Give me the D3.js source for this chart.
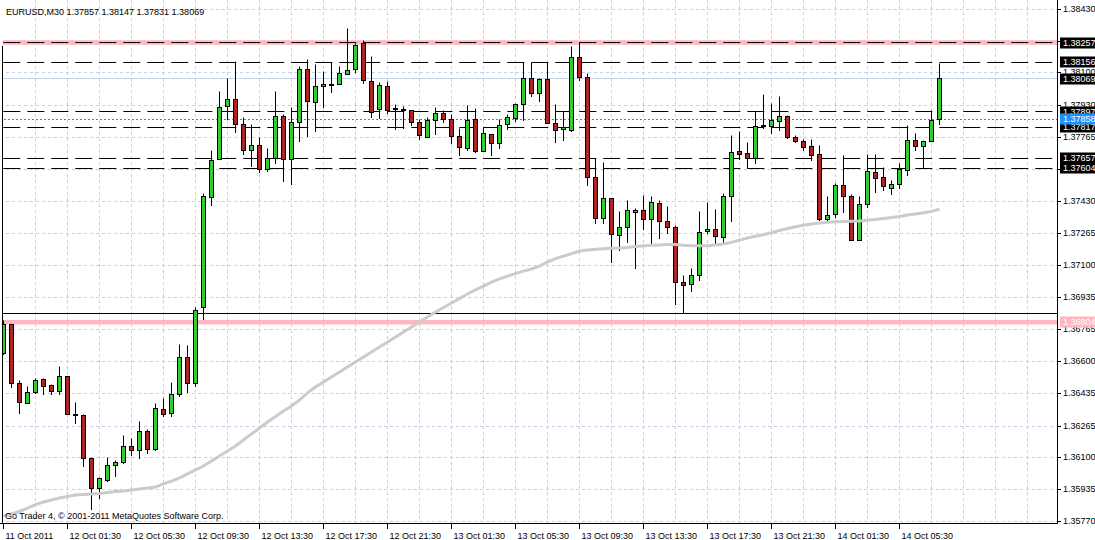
<!DOCTYPE html>
<html><head><meta charset="utf-8">
<script src="https://cdnjs.cloudflare.com/ajax/libs/d3/7.8.5/d3.min.js"></script>
<style>
body{margin:0;background:#fff}
svg{display:block}
text{font-family:"Liberation Sans",Arial,sans-serif;font-size:9px}
</style>
</head><body>
<svg id="c" width="1095" height="540"></svg>
<script>
const symbolTitle = "EURUSD,M30  1.37857 1.38147 1.37831 1.38069";
const copyright = "Go Trader 4, \u00a9 2001-2011 MetaQuotes Software Corp.";

const opens = [1.36644,1.36790,1.36487,1.36383,1.36440,1.36508,1.36477,1.36445,1.36523,1.36326,
1.36322,1.36097,1.35941,1.35983,1.36061,1.36077,1.36160,1.36139,1.36238,1.36144,
1.36352,1.36331,1.36430,1.36622,1.36487,1.36880,1.37453,1.37651,1.37926,1.37962,
1.37833,1.37697,1.37723,1.37599,1.37656,1.37874,1.37651,1.37843,1.38118,1.37947,
1.38030,1.38037,1.38040,1.38092,1.38118,1.38253,1.38056,1.37910,1.38030,1.37916,
1.37910,1.37905,1.37843,1.37765,1.37853,1.37890,1.37859,1.37770,1.37708,1.37855,
1.37692,1.37781,1.37734,1.37833,1.37864,1.37937,1.38072,1.37994,1.38066,1.37838,
1.37807,1.37801,1.38181,1.38077,1.37557,1.37344,1.37448,1.37256,1.37297,1.37375,
1.37386,1.37339,1.37422,1.37329,1.37297,1.37012,1.37001,1.37048,1.37277,1.37287,
1.37246,1.37458,1.37692,1.37682,1.37656,1.37822,1.37822,1.37848,1.37874,1.37765,
1.37744,1.37718,1.37677,1.37337,1.37365,1.37516,1.37458,1.37230,1.37417,1.37583,
1.37557,1.37500,1.37521,1.37594,1.37749,1.37718,1.37744,1.37857];

const highs = [1.36811,1.36795,1.36500,1.36468,1.36514,1.36510,1.36483,1.36572,1.36524,1.36388,
1.36326,1.36103,1.35997,1.36104,1.36087,1.36218,1.36201,1.36291,1.36248,1.36383,
1.36409,1.36492,1.36690,1.36681,1.36883,1.37474,1.37699,1.38004,1.38068,1.38161,
1.37869,1.37833,1.37765,1.37708,1.38004,1.37885,1.37921,1.38134,1.38167,1.38144,
1.38108,1.38155,1.38134,1.38328,1.38250,1.38270,1.38186,1.38051,1.38056,1.37937,
1.37926,1.37906,1.37859,1.37869,1.37921,1.37905,1.37885,1.37812,1.37931,1.37916,
1.37817,1.37782,1.37859,1.37885,1.37942,1.38153,1.38153,1.38068,1.38153,1.37937,
1.37900,1.38239,1.38259,1.38098,1.37656,1.37635,1.37449,1.37381,1.37438,1.37396,
1.37464,1.37458,1.37438,1.37407,1.37308,1.37048,1.37084,1.37381,1.37427,1.37391,
1.37474,1.37775,1.37796,1.37739,1.37900,1.37988,1.37942,1.37978,1.37879,1.37775,
1.37755,1.37755,1.37723,1.37458,1.37526,1.37672,1.37469,1.37458,1.37677,1.37677,
1.37609,1.37542,1.37630,1.37827,1.37786,1.37746,1.37905,1.38147];

const lows = [1.36634,1.36463,1.36329,1.36380,1.36435,1.36428,1.36428,1.36428,1.36324,1.36277,
1.36054,1.35829,1.35890,1.35979,1.36002,1.36071,1.36114,1.36097,1.36123,1.36139,
1.36317,1.36312,1.36417,1.36438,1.36469,1.36817,1.37413,1.37648,1.37860,1.37791,
1.37677,1.37614,1.37583,1.37586,1.37630,1.37534,1.37521,1.37742,1.37768,1.37794,
1.37921,1.37997,1.38038,1.38090,1.38103,1.38046,1.37869,1.37864,1.37890,1.37807,
1.37812,1.37827,1.37755,1.37763,1.37781,1.37843,1.37734,1.37672,1.37697,1.37687,
1.37690,1.37672,1.37708,1.37807,1.37848,1.37853,1.37978,1.37952,1.37836,1.37739,
1.37749,1.37796,1.38061,1.37516,1.37318,1.37318,1.37116,1.37178,1.37220,1.37084,
1.37287,1.37214,1.37240,1.37266,1.36897,1.36851,1.36965,1.37022,1.37266,1.37214,
1.37220,1.37329,1.37651,1.37604,1.37630,1.37812,1.37786,1.37801,1.37760,1.37739,
1.37697,1.37646,1.37332,1.37332,1.37349,1.37375,1.37228,1.37228,1.37401,1.37479,
1.37490,1.37469,1.37500,1.37568,1.37697,1.37604,1.37742,1.37831];

const closes = [1.36790,1.36487,1.36386,1.36440,1.36503,1.36471,1.36445,1.36523,1.36326,1.36322,
1.36097,1.35941,1.35990,1.36061,1.36078,1.36160,1.36139,1.36238,1.36144,1.36357,
1.36326,1.36430,1.36622,1.36487,1.36866,1.37458,1.37646,1.37921,1.37962,1.37833,
1.37697,1.37723,1.37599,1.37656,1.37874,1.37651,1.37843,1.38118,1.37952,1.38030,
1.38040,1.38035,1.38098,1.38113,1.38243,1.38061,1.37895,1.38035,1.37905,1.37910,
1.37905,1.37843,1.37775,1.37853,1.37890,1.37859,1.37770,1.37713,1.37853,1.37692,
1.37786,1.37734,1.37827,1.37869,1.37937,1.38072,1.37994,1.38066,1.37838,1.37801,
1.37817,1.38181,1.38077,1.37557,1.37344,1.37448,1.37261,1.37297,1.37386,1.37386,
1.37339,1.37427,1.37329,1.37297,1.37012,1.36996,1.37048,1.37271,1.37287,1.37251,
1.37458,1.37687,1.37677,1.37656,1.37822,1.37824,1.37853,1.37874,1.37765,1.37744,
1.37713,1.37672,1.37337,1.37360,1.37516,1.37458,1.37230,1.37417,1.37588,1.37552,
1.37510,1.37521,1.37599,1.37749,1.37718,1.37744,1.37853,1.38069];

const maValues = [1.35798,1.35808,1.35821,1.35839,1.35857,1.35870,1.35881,1.35891,1.35899,1.35907,
1.35909,1.35912,1.35915,1.35920,1.35925,1.35927,1.35933,1.35938,1.35943,1.35948,
1.35964,1.35979,1.35995,1.36016,1.36037,1.36057,1.36083,1.36109,1.36135,1.36161,
1.36192,1.36224,1.36255,1.36286,1.36314,1.36343,1.36369,1.36400,1.36437,1.36468,
1.36494,1.36520,1.36546,1.36572,1.36598,1.36624,1.36650,1.36676,1.36702,1.36727,
1.36753,1.36779,1.36805,1.36831,1.36857,1.36881,1.36904,1.36927,1.36951,1.36972,
1.36992,1.37013,1.37029,1.37044,1.37057,1.37070,1.37081,1.37096,1.37117,1.37135,
1.37148,1.37161,1.37174,1.37179,1.37183,1.37186,1.37188,1.37190,1.37193,1.37198,
1.37201,1.37204,1.37206,1.37208,1.37208,1.37204,1.37202,1.37202,1.37202,1.37205,
1.37211,1.37219,1.37231,1.37242,1.37251,1.37259,1.37270,1.37281,1.37291,1.37300,
1.37308,1.37314,1.37320,1.37323,1.37326,1.37327,1.37329,1.37330,1.37334,1.37338,
1.37343,1.37348,1.37354,1.37361,1.37366,1.37373,1.37380,1.37391];

const priceTicks = ["1.38430","1.38265","1.38100","1.37930","1.37765","1.37600","1.37430","1.37265",
"1.37100","1.36935","1.36765","1.36600","1.36435","1.36265","1.36100","1.35935","1.35770"];

const timeLabels = ["11 Oct 2011","12 Oct 01:30","12 Oct 05:30","12 Oct 09:30","12 Oct 13:30",
"12 Oct 17:30","12 Oct 21:30","13 Oct 01:30","13 Oct 05:30","13 Oct 09:30","13 Oct 13:30",
"13 Oct 17:30","13 Oct 21:30","14 Oct 01:30","14 Oct 05:30"];
const barsPerLabel = 8;
const barsPerGrid = 4;
const totalSlots = 132;

// horizontal objects
const pinkLevels = [1.38257, 1.36804];
const dashedLevels = [1.38257, 1.38156, 1.37897, 1.37817, 1.37657, 1.37604];
const bidLevel = 1.38069;
const blueLevel = 1.37858;
const solidLevel = 1.36851;
const boxLabels = ["1.38257","1.38156","1.38069","1.37897","1.37817","1.37604","1.37657","1.37858","1.36804"];

// ---------- drawing ----------
const W = 1095, H = 540;
const plotLeft = 2, plotRight = 1057.5, plotBottom = 523.5;
const svg = d3.select("#c");
svg.append("rect").attr("width", W).attr("height", H).attr("fill", "#fff");

const y = d3.scaleLinear().domain([1.35770, 1.38430]).range([521.3, 9.3]);
const x = d3.scaleLinear().domain([0, 1]).range([3.5, 11.5]);
const py = v => Math.round(y(v) - 0.5) + 0.5;

svg.append("defs").append("clipPath").attr("id", "plot")
  .append("rect").attr("x", plotLeft + 0.5).attr("y", 0).attr("width", plotRight - plotLeft - 0.5).attr("height", plotBottom);

const plot = svg.append("g").attr("clip-path", "url(#plot)");
const gridColor = "#c9cdea";

// horizontal grid
plot.append("g").selectAll("line").data(priceTicks).join("line")
  .attr("x1", 0).attr("x2", plotRight)
  .attr("y1", d => py(+d)).attr("y2", d => py(+d))
  .attr("stroke", gridColor).attr("stroke-dasharray", "3,3");

// vertical grid
const gridIdx = d3.range(barsPerGrid, totalSlots, barsPerGrid);
plot.append("g").selectAll("line").data(gridIdx).join("line")
  .attr("x1", d => x(d)).attr("x2", d => x(d))
  .attr("y1", 0).attr("y2", plotBottom)
  .attr("stroke", gridColor).attr("stroke-dasharray", "3,3");

// pink bands
plot.append("g").selectAll("line").data(pinkLevels).join("line")
  .attr("x1", 0).attr("x2", plotRight)
  .attr("y1", d => y(d)).attr("y2", d => y(d))
  .attr("stroke", "#ffb6c1").attr("stroke-width", 4.5);

// bid line
plot.append("line").attr("x1", 0).attr("x2", plotRight)
  .attr("y1", py(bidLevel)).attr("y2", py(bidLevel))
  .attr("stroke", "#c6d3ee");

// solid black level
plot.append("line").attr("x1", 0).attr("x2", plotRight)
  .attr("y1", py(solidLevel)).attr("y2", py(solidLevel))
  .attr("stroke", "#000");

// dashed black levels
plot.append("g").selectAll("line").data(dashedLevels).join("line")
  .attr("x1", 3.3).attr("x2", plotRight)
  .attr("y1", d => py(d)).attr("y2", d => py(d))
  .attr("stroke", "#000").attr("stroke-dasharray", "17,7");

// blue dotted level
plot.append("line").attr("x1", 0).attr("x2", plotRight)
  .attr("y1", py(blueLevel)).attr("y2", py(blueLevel))
  .attr("stroke", "#1e90ff").attr("stroke-dasharray", "2,2");

// candles
const bars = opens.map((o, i) => ({i, o, h: highs[i], l: lows[i], c: closes[i]}));
const cg = plot.append("g");
cg.selectAll("line.wick").data(bars).join("line").attr("class", "wick")
  .attr("x1", d => x(d.i)).attr("x2", d => x(d.i))
  .attr("y1", d => py(d.h)).attr("y2", d => py(d.l) + 0.5)
  .attr("stroke", "#000");
cg.selectAll("rect.body").data(bars).join("rect").attr("class", "body")
  .attr("x", d => x(d.i) - 2).attr("width", 4)
  .attr("y", d => py(Math.max(d.o, d.c)))
  .attr("height", d => Math.max(1, py(Math.min(d.o, d.c)) - py(Math.max(d.o, d.c))))
  .attr("fill", d => d.c > d.o ? "#32cd32" : (d.c < d.o ? "#b22222" : "#000"))
  .attr("stroke", "#000");

// moving average
const line = d3.line().x((d, i) => x(i)).y(d => y(d)).curve(d3.curveLinear);
plot.append("path").attr("d", line(maValues))
  .attr("fill", "none").attr("stroke", "#cbcbcb").attr("stroke-width", 3);

// frame
svg.append("line").attr("x1", 2.5).attr("x2", 2.5).attr("y1", 46).attr("y2", plotBottom).attr("stroke", "#000");
svg.append("line").attr("x1", plotRight).attr("x2", plotRight).attr("y1", 0).attr("y2", plotBottom + 0.5).attr("stroke", "#000");
svg.append("line").attr("x1", 0).attr("x2", plotRight).attr("y1", plotBottom).attr("y2", plotBottom).attr("stroke", "#000");

// right axis
const ra = svg.append("g");
ra.selectAll("line").data(priceTicks).join("line")
  .attr("x1", plotRight).attr("x2", 1061).attr("y1", d => py(+d)).attr("y2", d => py(+d)).attr("stroke", "#000");
ra.selectAll("text").data(priceTicks).join("text")
  .attr("x", 1063).attr("y", d => y(+d) + 2.6).attr("fill", "#000").text(d => d);

// price boxes
const boxColor = v => v === "1.37858" ? "#1e90ff" : (v === "1.36804" ? "#ffb6c1" : "#000");
const bx = svg.append("g");
boxLabels.forEach(v => {
  const yy = y(+v);
  bx.append("rect").attr("x", 1060).attr("y", Math.round(yy) - 5.5).attr("width", 40).attr("height", 11)
    .attr("fill", boxColor(v));
  bx.append("text").attr("x", 1063).attr("y", yy + 3).attr("fill", "#fff").text(v);
});

// bottom axis
const labelIdx = timeLabels.map((d, k) => k * barsPerLabel);
const ba = svg.append("g");
ba.selectAll("line").data(labelIdx).join("line")
  .attr("x1", d => x(d)).attr("x2", d => x(d)).attr("y1", plotBottom).attr("y2", 529).attr("stroke", "#000");
ba.selectAll("text").data(timeLabels).join("text")
  .attr("x", (d, k) => x(labelIdx[k]) + 2).attr("y", 538.5).attr("fill", "#000").text(d => d);

// texts
svg.append("text").attr("x", 6).attr("y", 15).attr("fill", "#000").text(symbolTitle);
svg.append("text").attr("x", 5).attr("y", 519).attr("fill", "#000").text(copyright);
</script>
</body></html>
